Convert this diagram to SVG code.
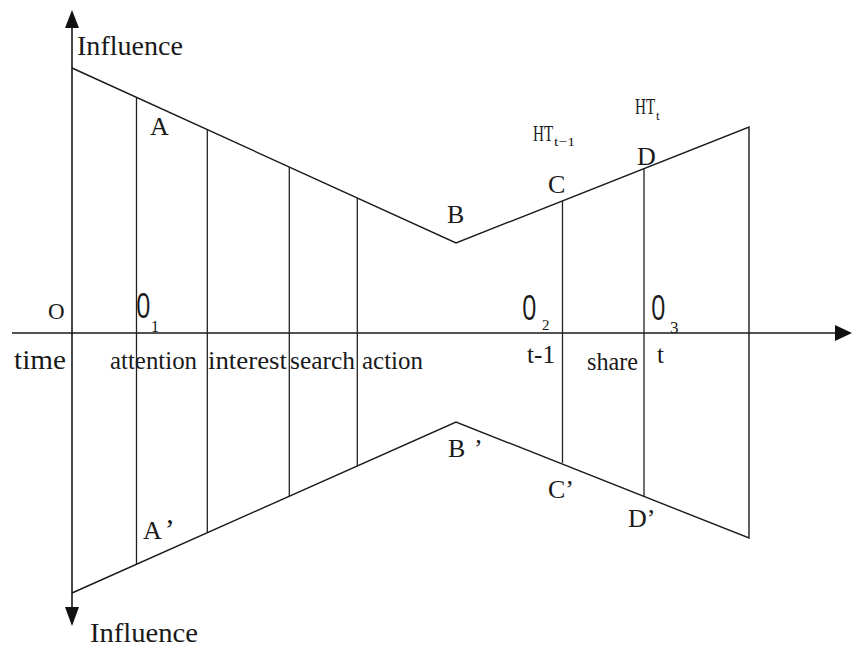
<svg xmlns="http://www.w3.org/2000/svg" width="852" height="647" viewBox="0 0 852 647">
  <style>
    .ax { stroke: #1a1a1a; stroke-width: 1.6; fill: none; }
    .ln { stroke: #1a1a1a; stroke-width: 1.4; fill: none; }
    .dv { stroke: #222; stroke-width: 1.3; fill: none; }
    .tx { font-family: "Liberation Serif", "Times New Roman", serif; fill: #1a1a1a; }
    .dg { font-family: "Open Sans", "Liberation Sans", Arial, sans-serif; font-weight: 400; fill: #1a1a1a; font-size: 34px; }
    .big { font-size: 27px; }
    .lab { font-size: 26px; }
    .stg { font-size: 25px; }
    .sub { font-size: 13px; }
    .ah { fill: #111; }
  </style>

  <rect width="852" height="647" fill="#ffffff"/>

  <!-- axes -->
  <g id="axes">
    <line class="ax" x1="72" y1="24" x2="72" y2="612"/>
    <polygon class="ah" points="72,10 65,28 79,28"/>
    <polygon class="ah" points="72,626 65,607 79,607"/>
    <line class="ax" x1="12" y1="333" x2="840" y2="333"/>
    <polygon class="ah" points="852,333 835,325 835,341"/>
  </g>

  <!-- funnel outline -->
  <g id="outline">
    <polyline class="ln" points="72,68 456,243 749,127 749,538 456,422 72,593"/>
  </g>

  <!-- stage dividers -->
  <g id="connectors">
    <line class="dv" x1="136.5" y1="97.4" x2="136.5" y2="564"/>
    <line class="dv" x1="207.3" y1="129.7" x2="207.3" y2="532.6"/>
    <line class="dv" x1="289.3" y1="167" x2="289.3" y2="496.1"/>
    <line class="dv" x1="357.3" y1="198" x2="357.3" y2="465.7"/>
    <line class="dv" x1="562.5" y1="200.8" x2="562.5" y2="463"/>
    <line class="dv" x1="644" y1="168.6" x2="644" y2="496.3"/>
  </g>

  <!-- axis titles -->
  <g id="axis-labels">
    <text class="tx big" x="77" y="55" textLength="106" lengthAdjust="spacingAndGlyphs">Influence</text>
    <text class="tx big" x="90" y="642" textLength="108" lengthAdjust="spacingAndGlyphs">Influence</text>
    <text class="tx big" x="14" y="369" textLength="52" lengthAdjust="spacingAndGlyphs">time</text>
    <text class="tx" font-size="23" x="48" y="319">O</text>
  </g>

  <!-- stage names -->
  <g id="stages">
    <text class="tx stg" x="110" y="369" textLength="87" lengthAdjust="spacingAndGlyphs">attention</text>
    <text class="tx stg" x="208" y="369" textLength="79" lengthAdjust="spacingAndGlyphs">interest</text>
    <text class="tx stg" x="290" y="369" textLength="65" lengthAdjust="spacingAndGlyphs">search</text>
    <text class="tx stg" x="362" y="369" textLength="61" lengthAdjust="spacingAndGlyphs">action</text>
    <text class="tx stg" x="527" y="363" textLength="28" lengthAdjust="spacingAndGlyphs">t-1</text>
    <text class="tx stg" x="587" y="370" textLength="51" lengthAdjust="spacingAndGlyphs">share</text>
    <text class="tx stg" x="657" y="363">t</text>
  </g>

  <!-- time points on the axis -->
  <g id="points">
    <text class="dg" transform="translate(136,318) scale(0.75,1)">0</text>
    <text class="tx" font-size="16" x="151" y="332">1</text>
    <text class="dg" transform="translate(522,320) scale(0.75,1)">0</text>
    <text class="tx" font-size="15" x="542" y="330">2</text>
    <text class="dg" transform="translate(651,320) scale(0.75,1)">0</text>
    <text class="tx" font-size="17" x="670" y="333">3</text>
  </g>

  <!-- vertex labels -->
  <g id="vertices">
    <text class="tx lab" x="150" y="135">A</text>
    <text class="tx lab" x="447" y="223">B</text>
    <text class="tx lab" x="548" y="193">C</text>
    <text class="tx lab" x="637" y="165">D</text>
    <text class="tx lab" x="143" y="539">A<tspan dx="3" font-size="30">’</tspan></text>
    <text class="tx lab" x="448" y="457">B <tspan x="474">’</tspan></text>
    <text class="tx lab" x="548" y="498">C’</text>
    <text class="tx lab" x="628" y="527">D’</text>
  </g>

  <!-- hot-topic markers -->
  <g id="hot-topics">
    <text class="tx" font-size="24" transform="translate(533,141) scale(0.63,1)">HT</text>
    <text class="tx sub" x="554" y="146" textLength="21" lengthAdjust="spacingAndGlyphs">t−1</text>
    <text class="tx" font-size="24" transform="translate(635,114) scale(0.63,1)">HT</text>
    <text class="tx sub" x="656" y="120">t</text>
  </g>
</svg>
